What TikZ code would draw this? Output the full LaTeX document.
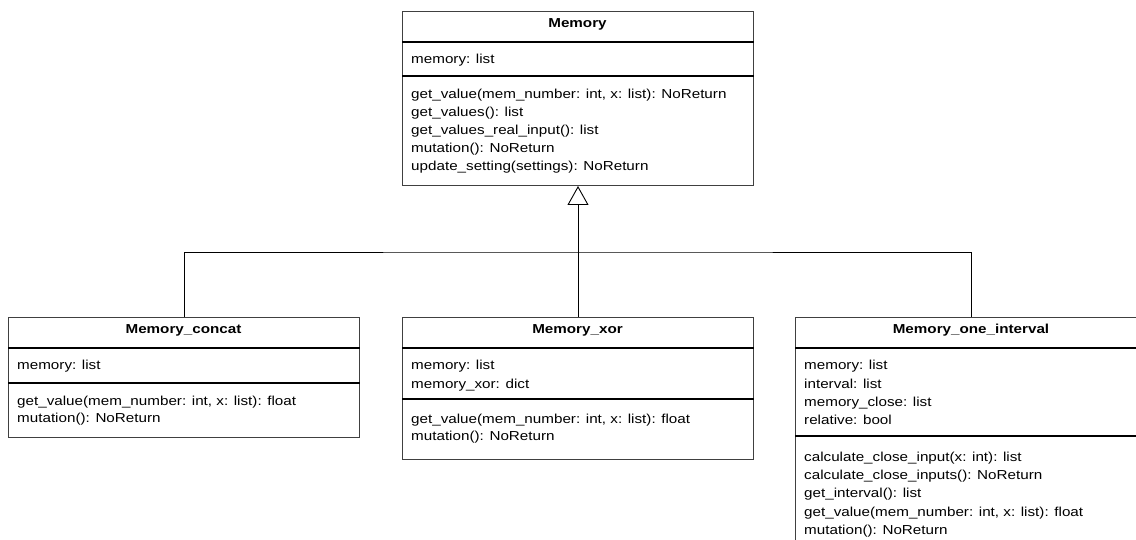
\documentclass[tikz,border=0pt]{standalone}
\usepackage{fontspec}
\setmainfont{Liberation Sans}[FakeStretch=1.17]
\usetikzlibrary{arrows.meta}
\begin{document}
\begin{tikzpicture}[x=1pt,y=-1pt,
  classbox/.style={rectangle, draw=black!75, line width=1pt, fill=white,
    anchor=north west, inner sep=0pt},
  compsep/.style={black, line width=1.6pt},
  classname/.style={anchor=base, inner sep=0pt,
    font=\fontsize{13}{15.6}\selectfont\bfseries},
  member/.style={anchor=base west, inner sep=0pt,
    font=\fontsize{13}{15.6}\selectfont},
  inherit/.style={black, line width=0.9pt},
  generalization/.style={inherit, -{Triangle[open, length=19pt, width=21pt]}},
]
\useasboundingbox (0,0) rectangle (1136,540);
\fill[white] (0,0) rectangle (1136,540);
\clip (0,0) rectangle (1136,540);

% ---------- Memory ----------
\node[classbox, minimum width=351pt, minimum height=174pt] (memory) at (402,11) {};
\draw[compsep] (memory.west |- 0,42) -- (memory.east |- 0,42);
\draw[compsep] (memory.west |- 0,76) -- (memory.east |- 0,76);
\node[classname] (memory-name) at (577.5,27.5) {Memory};
\node[member] (memory-attr) at (411,64) {memory: list};
\foreach \t [count=\i from 0] in {
  {get\_value(mem\_number: int, x: list): NoReturn},
  {get\_values(): list},
  {get\_values\_real\_input(): list},
  {mutation(): NoReturn},
  {update\_setting(settings): NoReturn}}
  \node[member] (memory-op\i) at (411,99+18*\i) {\t};

% ---------- Memory_concat ----------
\node[classbox, minimum width=351pt, minimum height=120pt] (concat) at (8,317) {};
\draw[compsep] (concat.west |- 0,348) -- (concat.east |- 0,348);
\draw[compsep] (concat.west |- 0,383) -- (concat.east |- 0,383);
\node[classname] (concat-name) at (183.5,333.5) {Memory\_concat};
\node[member] (concat-attr) at (17,370) {memory: list};
\foreach \t [count=\i from 0] in {
  {get\_value(mem\_number: int, x: list): float},
  {mutation(): NoReturn}}
  \node[member] (concat-op\i) at (17,405.5+17*\i) {\t};

% ---------- Memory_xor ----------
\node[classbox, minimum width=351pt, minimum height=142pt] (xor) at (402,317) {};
\draw[compsep] (xor.west |- 0,348) -- (xor.east |- 0,348);
\draw[compsep] (xor.west |- 0,399) -- (xor.east |- 0,399);
\node[classname] (xor-name) at (577.5,333.5) {Memory\_xor};
\foreach \t [count=\i from 0] in {
  {memory: list},
  {memory\_xor: dict}}
  \node[member] (xor-attr\i) at (411,370+18*\i) {\t};
\foreach \t [count=\i from 0] in {
  {get\_value(mem\_number: int, x: list): float},
  {mutation(): NoReturn}}
  \node[member] (xor-op\i) at (411,423+17.5*\i) {\t};

% ---------- Memory_one_interval ----------
\node[classbox, minimum width=352pt, minimum height=260pt] (interval) at (795,317) {};
\draw[compsep] (interval.west |- 0,348) -- (interval.east |- 0,348);
\draw[compsep] (interval.west |- 0,436) -- (interval.east |- 0,436);
\node[classname] (interval-name) at (971,333.5) {Memory\_one\_interval};
\foreach \t [count=\i from 0] in {
  {memory: list},
  {interval: list},
  {memory\_close: list},
  {relative: bool}}
  \node[member] (interval-attr\i) at (804,370+18*\i) {\t};
\foreach \t [count=\i from 0] in {
  {calculate\_close\_input(x: int): list},
  {calculate\_close\_inputs(): NoReturn},
  {get\_interval(): list},
  {get\_value(mem\_number: int, x: list): float},
  {mutation(): NoReturn}}
  \node[member] (interval-op\i) at (804,461.5+18.2*\i) {\t};

% ---------- generalization tree ----------
\coordinate (bus) at (xor.north |- 0,252);
\draw[inherit] (concat.north) |- (bus) -| (interval.north);
\draw[inherit] (xor.north) -- (bus);
\draw[generalization] (bus) -- (memory.south);
\end{tikzpicture}
\end{document}
